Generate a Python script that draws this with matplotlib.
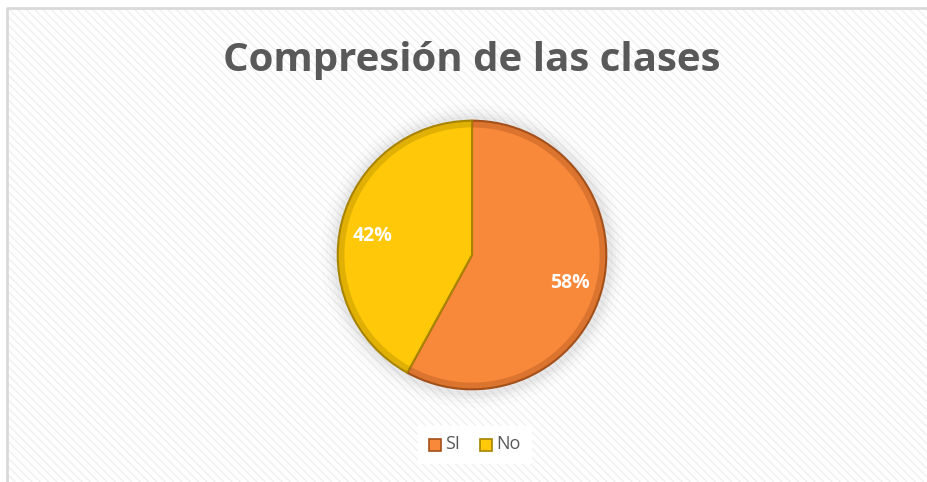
import matplotlib
matplotlib.use('Agg')
import matplotlib.pyplot as plt
from matplotlib.patches import Rectangle, Circle

# data
labels = ['SI', 'No']
values = [58, 42]
colors = ['#F8883A', '#FFC809']
edge_colors = ['#A4501A', '#A88400']
title = 'Compresión de las clases'

plt.rcParams['font.family'] = ['Open Sans', 'DejaVu Sans']

fig = plt.figure(figsize=(9.28, 4.82), dpi=100)
fig.patch.set_facecolor('white')

# hatched background and chart border (top and left edges)
bg = fig.add_axes([0, 0, 1, 1])
bg.set_xlim(0, 928)
bg.set_ylim(482, 0)
bg.axis('off')
bg.add_patch(Rectangle((8, 8), 930, 480, facecolor='white', edgecolor='#F0F0F0',
                       hatch='\\\\\\\\', linewidth=0))
bg.plot([7.5, 7.5, 928], [482, 7.5, 7.5], color='#D9D9D9', lw=2)

# soft shadow around pie
for r, a in [(152, 0.03), (147, 0.04), (143, 0.05), (140, 0.06)]:
    bg.add_patch(Circle((473, 256), r, color='#808080', alpha=a, lw=0))

cx, cy, rad = 472, 255, 137
ax = fig.add_axes([(cx - rad) / 928, 1 - (cy + rad) / 482, 2 * rad / 928, 2 * rad / 482])
wedges, texts = ax.pie(values, colors=colors, startangle=90, counterclock=False,
                       radius=1.0, wedgeprops=dict(linewidth=1.5))
for w, ec in zip(wedges, edge_colors):
    w.set_edgecolor(ec)
# darker bevel ring inside the rim
rim, _ = ax.pie(values, colors=edge_colors, startangle=90, counterclock=False,
                radius=1.0, wedgeprops=dict(width=0.05, linewidth=0, alpha=0.35))
ax.set_xlim(-1.02, 1.02)
ax.set_ylim(-1.02, 1.02)
ax.set_aspect('auto')

# percentage labels
ax.text(0.73, -0.21, f'{values[0]}%', color='white', fontsize=14, fontweight='bold',
        ha='center', va='center')
ax.text(-0.74, 0.14, f'{values[1]}%', color='white', fontsize=14, fontweight='bold',
        ha='center', va='center')

fig.text(0.508, 0.875, title, ha='center', va='center', fontsize=29,
         fontweight='bold', color='#595959')

# legend
bg.add_patch(Rectangle((418, 426), 114, 38, facecolor='white', edgecolor='none'))
for x0, lab, c, ec in [(429, labels[0], colors[0], edge_colors[0]),
                       (480, labels[1], colors[1], edge_colors[1])]:
    bg.add_patch(Rectangle((x0, 439), 12, 12, facecolor=c, edgecolor=ec, lw=1.2))
    bg.text(x0 + 16, 444, lab, fontsize=13, color='#595959', va='center', ha='left')

fig.savefig('out.png', dpi=100)
